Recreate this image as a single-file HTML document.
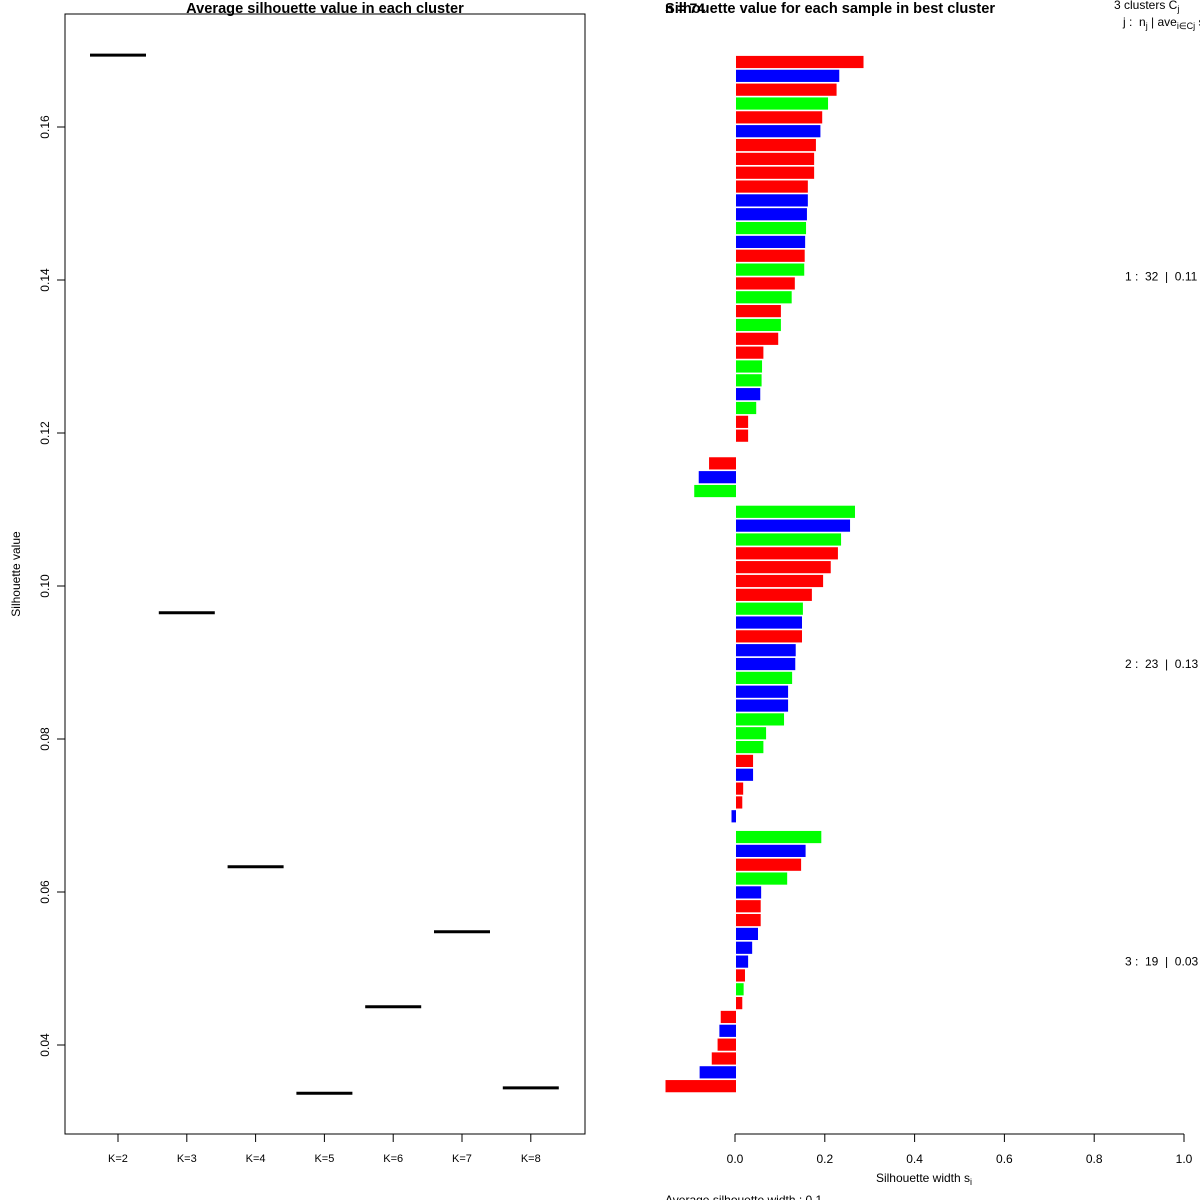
<!DOCTYPE html>
<html><head><meta charset="utf-8"><style>
html,body{margin:0;padding:0;background:#fff;}
svg{display:block;font-family:"Liberation Sans",sans-serif;}
svg text{white-space:pre;}
</style></head><body>
<svg id="chart" width="1200" height="1200" viewBox="0 0 1200 1200">
<rect width="1200" height="1200" fill="#fff"/>
<g id="left"></g>
<g id="right"></g>
</svg>
<script>
// Left panel data
const kLabels = ["K=2","K=3","K=4","K=5","K=6","K=7","K=8"];
const kValues = [0.1694,0.0965,0.0633,0.0337,0.0450,0.0548,0.0344];
const yTicks = [0.04,0.06,0.08,0.10,0.12,0.14,0.16];
const yTickLabels = ["0.04","0.06","0.08","0.10","0.12","0.14","0.16"];
// Right panel data
const c1Values = [0.284,0.230,0.224,0.205,0.192,0.188,0.178,0.174,0.174,0.160,0.160,0.158,0.156,0.154,0.153,0.152,0.131,0.124,0.100,0.100,0.094,0.061,0.058,0.057,0.054,0.045,0.027,0.027,0.0,-0.060,-0.083,-0.093];
const c1Colors = ["r","b","r","g","r","b","r","r","r","r","b","b","g","b","r","g","r","g","r","g","r","r","g","g","b","g","r","r","r","r","b","g"];
const c2Values = [0.265,0.254,0.234,0.227,0.211,0.194,0.169,0.149,0.147,0.147,0.133,0.132,0.125,0.116,0.116,0.107,0.067,0.061,0.038,0.038,0.016,0.014,-0.010];
const c2Colors = ["g","b","g","r","r","r","r","g","b","r","b","b","g","b","b","g","g","g","r","b","r","r","b"];
const c3Values = [0.190,0.155,0.145,0.114,0.056,0.055,0.055,0.049,0.036,0.027,0.020,0.017,0.014,-0.034,-0.037,-0.041,-0.054,-0.081,-0.157];
const c3Colors = ["g","b","r","g","b","r","r","b","b","b","r","g","r","r","b","r","r","b","r"];
const clusterLabels = ["1 :  32  |  0.11","2 :  23  |  0.13","3 :  19  |  0.03"];
const xTicks = [0,0.2,0.4,0.6,0.8,1.0];
const xTickLabels = ["0.0","0.2","0.4","0.6","0.8","1.0"];

const NS="http://www.w3.org/2000/svg";
function mk(parent,tag,attrs,text){const el=document.createElementNS(NS,tag);for(const k in attrs)el.setAttribute(k,attrs[k]);if(text!==undefined)el.textContent=text;parent.appendChild(el);return el;}
const L=document.getElementById('left'), R=document.getElementById('right');

const yL = v => 127 + (0.16 - v) / 0.02 * 153;
const xL = i => 118 + i * 68.8;
let e;
e=mk(L,'rect',{x:65,y:14,width:520,height:1120,fill:'none',stroke:'#000','stroke-width':1});


e=mk(L,'text',{x:325,y:13,'text-anchor':'middle','font-size':14.6,'font-weight':'bold'},'Average silhouette value in each cluster');


e=mk(L,'text',{x:20,y:574,'text-anchor':'middle','font-size':12,transform:'rotate(-90 20 574)'},'Silhouette value');


yTicks.forEach((t,i)=>{
  const y=yL(t);
  e=mk(L,'line',{x1:57,x2:65,y1:y,y2:y,stroke:'#000'});
  
  
  e=mk(L,'text',{x:49,y:y,'text-anchor':'middle','font-size':12,transform:'rotate(-90 49 '+y+')'},yTickLabels[i]);
  
  
});
kLabels.forEach((k,i)=>{
  const x=xL(i);
  e=mk(L,'line',{x1:x,x2:x,y1:1134,y2:1142,stroke:'#000'});
  
  
  e=mk(L,'text',{x:x,y:1162,'text-anchor':'middle','font-size':11},k);
  
  
  e=mk(L,'line',{x1:x-28,x2:x+28,y1:yL(kValues[i]),y2:yL(kValues[i]),stroke:'#000','stroke-width':3});
  
  
});

// Right panel
const x0=736, sc=449;
const xR = v => x0 + v*sc;
const pitch=13.84, barTop=62;
const colMap={r:'#ff0000',g:'#00ff00',b:'#0000ff'};
const clusters=[[c1Values,c1Colors],[c2Values,c2Colors],[c3Values,c3Colors]];
let idx=0;
clusters.forEach((c,ci)=>{
  const vals=c[0], cols=c[1];
  const startIdx=idx;
  vals.forEach((v,j)=>{
    const cy=barTop+(idx+ci*0.5)*pitch;
    const a=Math.min(xR(0),xR(v)), w=Math.abs(xR(v)-xR(0));
    e=mk(R,'rect',{x:a,y:cy-6.1,width:w,height:12.2,fill:colMap[cols[j]]});
    
    
    idx++;
  });
  const mid=barTop+((startIdx+idx-1)/2+ci*0.5)*pitch;
  e=mk(R,'text',{x:1125,y:mid+4,'font-size':12},clusterLabels[ci]);
  
  
});
e=mk(R,'line',{x1:xR(0)-1,x2:xR(1)-1,y1:1134,y2:1134,stroke:'#000'});


xTicks.forEach((t,i)=>{
  e=mk(R,'line',{x1:xR(t)-1,x2:xR(t)-1,y1:1134,y2:1142,stroke:'#000'});
  
  
  e=mk(R,'text',{x:xR(t)-1,y:1163,'text-anchor':'middle','font-size':12},xTickLabels[i]);
  
  
});
e=mk(R,'text',{x:924,y:1182,'text-anchor':'middle','font-size':12},'Silhouette width s');


mk(e,'tspan',{dy:3,'font-size':9},'i');
e=mk(R,'text',{x:665,y:13,'font-size':14.6,'font-weight':'bold'},'Silhouette value for each sample in best cluster');


e=mk(R,'text',{x:665,y:13,'font-size':14,'font-weight':'bold'},'n = 74');


e=mk(R,'text',{x:1114,y:9,'font-size':12},'3 clusters C');


mk(e,'tspan',{dy:3,'font-size':9},'j');
e=mk(R,'text',{x:1123,y:26,'font-size':12},'j :  n');


mk(e,'tspan',{dy:3,'font-size':9},'j');
mk(e,'tspan',{dy:-3},' | ave');
mk(e,'tspan',{dy:3,'font-size':9},'i∈Cj');
mk(e,'tspan',{dy:-3},' s');
e=mk(R,'text',{x:665,y:1204,'font-size':12},'Average silhouette width : 0.1');


</script>
</body></html>
